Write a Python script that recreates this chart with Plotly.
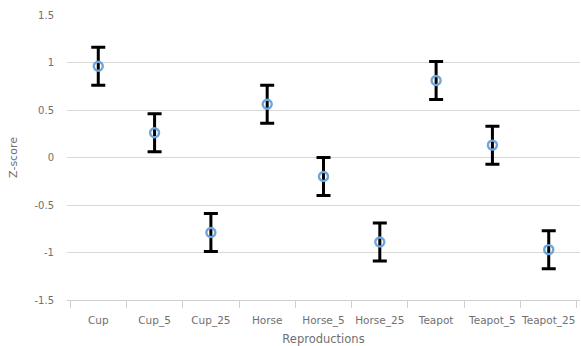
import plotly.graph_objects as go

categories = ["Cup", "Cup_5", "Cup_25", "Horse", "Horse_5", "Horse_25",
              "Teapot", "Teapot_5", "Teapot_25"]
z_scores = [0.96, 0.26, -0.79, 0.56, -0.20, -0.89, 0.81, 0.13, -0.97]
errors = [0.20, 0.20, 0.20, 0.20, 0.20, 0.20, 0.20, 0.20, 0.20]
y_ticks = [-1.5, -1, -0.5, 0, 0.5, 1, 1.5]

font_family = "DejaVu Sans"
text_grey = "#707070"

fig = go.Figure(go.Scatter(
    x=categories,
    y=z_scores,
    mode="markers",
    marker=dict(symbol="circle-open", size=9, color="#6ea5db",
                line=dict(width=2.4, color="#6ea5db")),
    error_y=dict(type="data", array=errors, visible=True,
                 color="black", thickness=3, width=7),
    showlegend=False,
))

fig.update_layout(
    width=581, height=346,
    margin=dict(l=67, r=1, t=15, b=46, autoexpand=False),
    paper_bgcolor="white",
    plot_bgcolor="white",
    font=dict(family=font_family, size=10, color=text_grey),
    xaxis=dict(
        type="category",
        automargin=False,
        tickangle=0,
        ticklabelstandoff=10,
        title=dict(text="Reproductions", font=dict(size=11.5, color=text_grey), standoff=11),
        tickson="boundaries",
        ticks="outside", ticklen=7, tickcolor="#d0d0d0", tickwidth=1,
        showline=True, linecolor="#d0d0d0", linewidth=1,
        showgrid=False,
        tickfont=dict(size=10.5, color=text_grey),
    ),
    yaxis=dict(
        automargin=False,
        range=[-1.5, 1.5],
        tickvals=y_ticks,
        ticktext=[f"{v:g}" for v in y_ticks],
        showgrid=True, gridcolor="#d9d9d9", gridwidth=1,
        zeroline=False,
        showline=False,
        ticks="",
        ticklabelstandoff=12,
        title=dict(text="Z-score", font=dict(size=11, color=text_grey), standoff=14),
        tickfont=dict(size=10, color=text_grey),
    ),
)

fig.write_html("out.html")
